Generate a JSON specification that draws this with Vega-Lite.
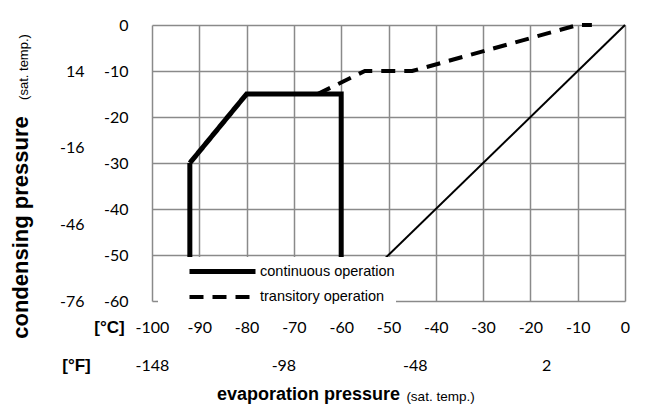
{
  "$schema": "https://vega.github.io/schema/vega-lite/v6.json",
  "width": 473,
  "height": 276,
  "autosize": {"type": "none"},
  "padding": {"left": 152, "top": 25, "right": 29, "bottom": 109},
  "background": "white",
  "config": {"view": {"stroke": null}, "font": "Liberation Sans"},
  "title": {
    "text": "evaporation pressure",
    "orient": "bottom",
    "anchor": "middle",
    "frame": "group",
    "font": "Liberation Sans",
    "fontSize": 18,
    "fontWeight": "bold",
    "color": "black",
    "baseline": "alphabetic",
    "offset": 0,
    "dx": -80,
    "dy": -3
  },
  "layer": [
    {
      "data": {"values": [{"x": -60, "y": -60}, {"x": 0, "y": 0}]},
      "mark": {"type": "line", "color": "black", "strokeWidth": 2},
      "encoding": {
        "x": {
          "field": "x", "type": "quantitative",
          "scale": {"domain": [-100, 0], "nice": false, "zero": false},
          "axis": {
            "orient": "bottom",
            "values": [-100, -90, -80, -70, -60, -50, -40, -30, -20, -10, 0],
            "labelExpr": "replace(datum.label, '\u2212', '-')",
            "grid": true, "gridColor": "#8a8a8a", "gridWidth": 1.5,
            "ticks": false, "tickSize": 0, "domain": false,
            "labelFont": "Lato", "labelFontSize": 16, "labelColor": "black",
            "labelPadding": 26, "labelBaseline": "middle", "labelFlush": false,
            "title": "[°C]", "titleFont": "Liberation Sans", "titleFontSize": 17, "titleFontWeight": "bold", "titleColor": "black",
            "titleX": -43, "titleY": 26.5, "titleBaseline": "middle", "titleAlign": "center", "titleAngle": 0
          }
        },
        "y": {
          "field": "y", "type": "quantitative",
          "scale": {"domain": [-60, 0], "nice": false, "zero": false},
          "axis": {
            "orient": "left",
            "values": [0, -10, -20, -30, -40, -50, -60],
            "labelExpr": "replace(datum.label, '\u2212', '-')",
            "grid": true, "gridColor": "#8a8a8a", "gridWidth": 1.5,
            "ticks": false, "tickSize": 0, "domain": false,
            "labelFont": "Lato", "labelFontSize": 16, "labelColor": "black",
            "labelPadding": 24, "labelBaseline": "middle", "labelFlush": false,
            "title": "condensing pressure", "titleFont": "Liberation Sans", "titleFontSize": 22, "titleFontWeight": "bold", "titleColor": "black",
            "titleX": -125, "titleY": 202, "titleBaseline": "alphabetic", "titleAlign": "center", "titleAngle": -90
          }
        }
      }
    },
    {
      "data": {"values": [
        {"series": "continuous operation", "x": -92, "y": -60, "o": 1},
        {"series": "continuous operation", "x": -92, "y": -30, "o": 2},
        {"series": "continuous operation", "x": -80, "y": -15, "o": 3},
        {"series": "continuous operation", "x": -60, "y": -15, "o": 4},
        {"series": "continuous operation", "x": -60, "y": -60, "o": 5}
      ]},
      "mark": {"type": "line", "color": "black", "strokeJoin": "miter", "strokeCap": "butt"},
      "encoding": {
        "x": {
          "field": "x", "type": "quantitative",
          "axis": {
            "orient": "bottom",
            "values": [-100, -72.2222, -44.4444, -16.6667],
            "labelExpr": "replace(format(datum.value * 9 / 5 + 32, '.0f'), '\u2212', '-')",
            "grid": false, "ticks": false, "tickSize": 0, "domain": false,
            "labelFont": "Lato", "labelFontSize": 16, "labelColor": "black",
            "labelPadding": 64.5, "labelBaseline": "middle", "labelFlush": false,
            "title": "[°F]", "titleFont": "Liberation Sans", "titleFontSize": 17, "titleFontWeight": "bold", "titleColor": "black",
            "titleX": -76, "titleY": 64.5, "titleBaseline": "middle", "titleAlign": "center", "titleAngle": 0
          }
        },
        "y": {
          "field": "y", "type": "quantitative",
          "axis": {
            "orient": "left",
            "values": [-10, -26.6667, -43.3333, -60],
            "labelExpr": "replace(format(datum.value * 9 / 5 + 32, '.0f'), '\u2212', '-')",
            "grid": false, "ticks": false, "tickSize": 0, "domain": false,
            "labelFont": "Lato", "labelFontSize": 16, "labelColor": "black",
            "labelPadding": 68, "labelBaseline": "middle", "labelFlush": false,
            "title": "(sat. temp.)", "titleFont": "Liberation Sans", "titleFontSize": 13, "titleFontWeight": "normal", "titleColor": "black",
            "titleX": -125, "titleY": 41.5, "titleBaseline": "alphabetic", "titleAlign": "center", "titleAngle": -90
          }
        },
        "order": {"field": "o", "type": "quantitative"},
        "strokeDash": {
          "field": "series", "type": "ordinal",
          "scale": {"domain": ["continuous operation", "transitory operation"], "range": [[1, 0], [14, 9]]},
          "legend": {
            "title": null, "orient": "none", "legendX": 6, "legendY": 232,
            "fillColor": "white", "padding": 1, "strokeColor": null,
            "symbolType": "M-1,0H5", "symbolSize": 484, "symbolStrokeColor": "black",
            "symbolOffset": 28, "labelOffset": 46, "rowPadding": 2,
            "labelFont": "Liberation Sans", "labelFontSize": 14.5, "labelColor": "black"
          }
        },
        "strokeWidth": {
          "field": "series", "type": "ordinal",
          "scale": {"domain": ["continuous operation", "transitory operation"], "range": [5, 4]},
          "legend": {
            "title": null, "orient": "none", "legendX": 6, "legendY": 232,
            "fillColor": "white", "padding": 1, "strokeColor": null,
            "symbolType": "M-1,0H5", "symbolSize": 484, "symbolStrokeColor": "black",
            "symbolOffset": 28, "labelOffset": 46, "rowPadding": 2,
            "labelFont": "Liberation Sans", "labelFontSize": 14.5, "labelColor": "black"
          }
        }
      }
    },
    {
      "data": {"values": [
        {"series": "transitory operation", "x": -65, "y": -15},
        {"series": "transitory operation", "x": -55, "y": -10},
        {"series": "transitory operation", "x": -45, "y": -10},
        {"series": "transitory operation", "x": -10, "y": 0},
        {"series": "transitory operation", "x": -7, "y": 0}
      ]},
      "mark": {"type": "line", "color": "black", "strokeJoin": "miter", "strokeCap": "butt"},
      "encoding": {
        "x": {
          "field": "x", "type": "quantitative",
          "axis": {
            "orient": "bottom",
            "labels": false, "grid": false, "ticks": false, "tickSize": 0, "domain": false,
            "title": "(sat. temp.)", "titleFont": "Liberation Sans", "titleFontSize": 13.5, "titleFontWeight": "normal", "titleColor": "black",
            "titleX": 288, "titleY": 99.5, "titleBaseline": "alphabetic", "titleAlign": "center", "titleAngle": 0
          }
        },
        "y": {"field": "y", "type": "quantitative", "axis": null},
        "strokeDash": {"field": "series", "type": "ordinal"},
        "strokeWidth": {"field": "series", "type": "ordinal"}
      }
    }
  ],
  "resolve": {"axis": {"x": "independent", "y": "independent"}}
}
